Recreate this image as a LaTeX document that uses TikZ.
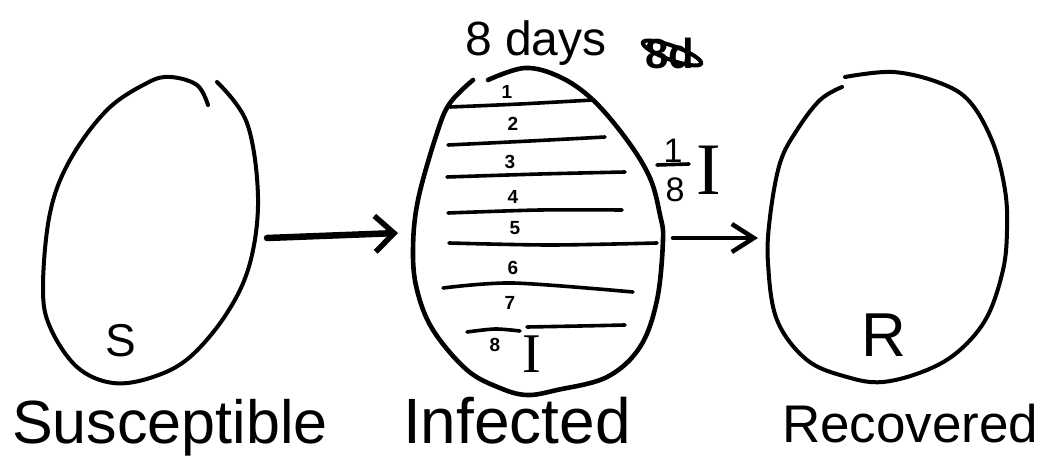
\documentclass[tikz,border=0pt]{standalone}
\usepackage{fontspec}
\setmainfont{Liberation Sans}
\newfontfamily\serifI{Liberation Serif}
\usetikzlibrary{arrows.meta}
\begin{document}
\begin{tikzpicture}[x=1pt,y=-1pt,
  pen/.style={line width=4pt,line cap=round,line join=round},
  thickpen/.style={line width=4.6pt,line cap=round,line join=round},
  rule/.style={line width=3.6pt,line cap=round,line join=round},
  num/.style={inner sep=0pt,font=\fontsize{19}{19}\selectfont\bfseries},
  big/.style={inner sep=0pt,anchor=base west},
  bigI/.style={inner sep=0pt,font=\serifI}
]
\useasboundingbox (0,0) rectangle (1039,457);

% ---------- S oval ----------
\draw[pen] plot[smooth,tension=0.6] coordinates {
 (217,82) (247,123) (258,197) (250,263) (227,313) (190,357) (153,377)
 (113,383) (77,367) (50,327) (43,287) (50,213) (70,160) (107,110)
 (147,83) (170,77) (197,85) (208,105)};
\node[inner sep=0pt,font=\fontsize{46}{46}\selectfont] (Slet) at (121,341) {S};

% ---------- I oval ----------
\draw[thickpen] plot[smooth,tension=0.6] coordinates {
 (488,80) (525,68) (560,77) (593,100) (627,140) (650,178) (660,215)
 (663,240) (657,300) (640,347) (607,377) (557,390) (527,395) (500,388)
 (467,370) (433,330) (417,290) (413,250) (418,200) (437,133) (450,103) (473,80)};

% day dividers
\draw[rule] plot[smooth] coordinates {(450,107) (520,104) (593,100)};
\draw[rule] plot[smooth] coordinates {(448,145) (530,141) (605,137)};
\draw[rule] plot[smooth] coordinates {(447,177) (540,174) (625,172)};
\draw[rule] plot[smooth] coordinates {(448,213) (540,210) (622,210)};
\draw[rule] plot[smooth] coordinates {(449,243) (550,245) (657,243)};
\draw[rule] plot[smooth] coordinates {(443,288) (513,283) (633,292)};
\draw[rule] plot[smooth] coordinates {(467,332) (495,329) (520,331)};
\draw[rule] plot[smooth] coordinates {(527,327) (580,326) (625,325)};

\node[num] (d1) at (507,92) {1};
\node[num] (d2) at (513,124) {2};
\node[num] (d3) at (510,162) {3};
\node[num] (d4) at (513,197) {4};
\node[num] (d5) at (515,228) {5};
\node[num] (d6) at (513,268) {6};
\node[num] (d7) at (510,303) {7};
\node[num] (d8) at (495,345) {8};
\node[bigI,font=\serifI\fontsize{56}{56}\selectfont] (Ilet) at (532,354) {I};

% ---------- R oval ----------
\draw[pen] plot[smooth,tension=0.6] coordinates {
 (845,77) (893,72) (940,83) (970,102) (993,143) (1005,190) (1007,230)
 (1003,270) (987,317) (960,350) (927,370) (883,382) (847,377) (807,360)
 (777,320) (768,263) (770,217) (780,163) (797,130) (820,100) (842,87)};
\node[inner sep=0pt,font=\fontsize{62}{62}\selectfont] (Rlet) at (884,335) {R};

% ---------- top text ----------
\node[big,font=\fontsize{48}{48}\selectfont] (days) at (465,56) {8 days};
\node[inner sep=0pt,font=\fontsize{42}{42}\selectfont\bfseries] (crossed) at (670,53) {8d};
\draw[line width=4pt,rotate around={-20:(672,53)}] (672,53) ellipse [x radius=31pt,y radius=7pt];

% ---------- rate label ----------
\node[inner sep=0pt,font=\fontsize{34}{34}\selectfont] (one) at (673,151) {1};
\coordinate (barL) at (657,165);
\coordinate (barR) at (689,164);
\draw[line width=3.6pt,line cap=round] (barL) -- (barR);
\node[inner sep=0pt,font=\fontsize{34}{34}\selectfont] (eight) at (675,190) {8};
\node[bigI,font=\serifI\fontsize{74}{74}\selectfont] (rateI) at (709,170) {I};

% ---------- arrows ----------
\coordinate (sOut) at (267,238);
\coordinate (iIn) at (398,233);
\draw[line width=6.5pt,line cap=round,-{Straight Barb[length=19pt,width=36pt,line width=5.5pt]}] (sOut) -- (iIn);

\coordinate (iOut) at (673,238);
\coordinate (rIn) at (758,238);
\draw[line width=4.5pt,line cap=round,-{Straight Barb[length=22pt,width=28pt,line width=4.5pt]}] (iOut) -- (rIn);

% ---------- bottom labels ----------
\node[big,font=\fontsize{61}{61}\selectfont] (lblS) at (12,443) {Susceptible};
\node[big,font=\fontsize{64}{64}\selectfont] (lblI) at (403,443) {Infected};
\node[big,font=\fontsize{53}{53}\selectfont] (lblR) at (782,442) {Recovered};
\end{tikzpicture}
\end{document}
